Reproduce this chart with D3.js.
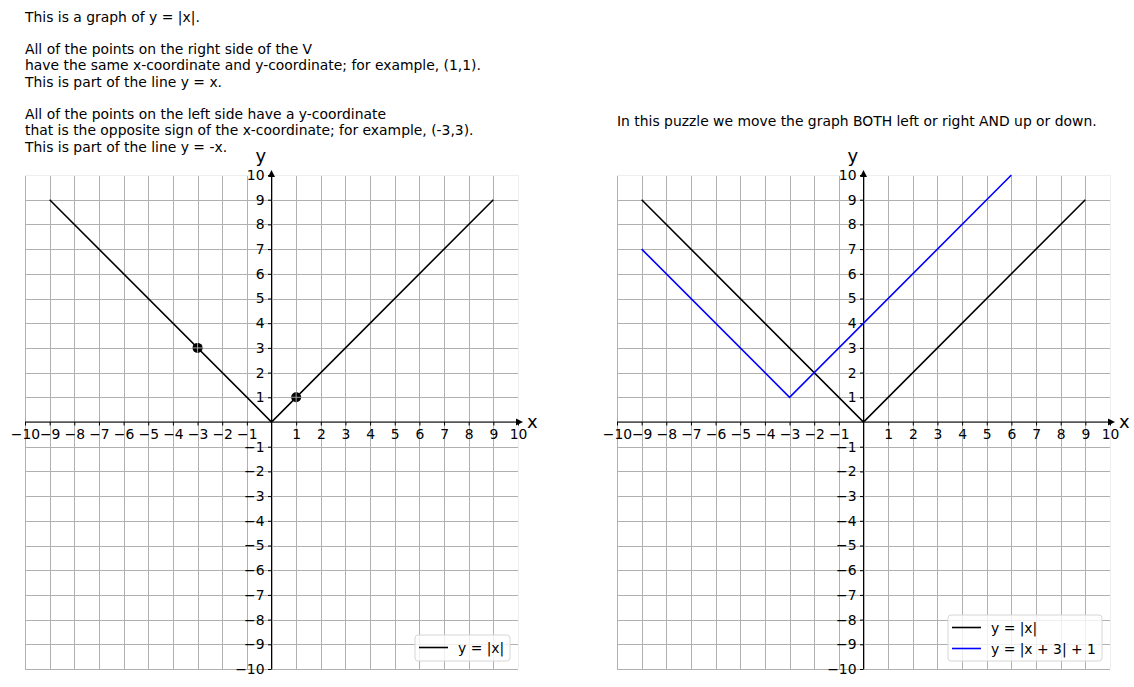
<!DOCTYPE html>
<html><head><meta charset="utf-8">
<script src="https://cdn.jsdelivr.net/npm/d3@7"></script>
<style>body{margin:0;background:#fff}text{font-family:"DejaVu Sans",sans-serif}</style>
</head><body><svg id="c" width="1134" height="687"></svg>
<script>
const ticks = d3.range(-10, 11);
const absX = [-9, 0, 9];
const absY = [9, 0, 9];
const shiftX = [-9, -3, 6];
const shiftY = [7, 1, 10];
const pointsX = [-3, 1];
const pointsY = [3, 1];
const leftText = ["This is a graph of y = |x|.", "", "All of the points on the right side of the V",
  "have the same x-coordinate and y-coordinate; for example, (1,1).", "This is part of the line y = x.", "",
  "All of the points on the left side have a y-coordinate",
  "that is the opposite sign of the x-coordinate; for example, (-3,3).", "This is part of the line y = -x."];
const rightText = ["In this puzzle we move the graph BOTH left or right AND up or down."];

const FS = "13.9px";
const svg = d3.select("#c");
svg.append("rect").attr("width",1134).attr("height",687).attr("fill","#fff");

function panel(x0, x1, series, pts) {
  const x = d3.scaleLinear().domain([-10,10]).range([x0,x1]);
  const y = d3.scaleLinear().domain([-10,10]).range([669,175]);
  const g = svg.append("g");
  // grid
  g.selectAll(".gv").data(ticks).join("line").attr("x1",d=>Math.round(x(d))+0.5).attr("x2",d=>Math.round(x(d))+0.5)
    .attr("y1",y(-10)).attr("y2",y(10)).attr("stroke", d=>d===10?"#eeeeee":"#b0b0b0").attr("stroke-width",1);
  g.selectAll(".gh").data(ticks).join("line").attr("y1",d=>Math.round(y(d))+0.5).attr("y2",d=>Math.round(y(d))+0.5)
    .attr("x1",x(-10)).attr("x2",x(10)).attr("stroke", d=>d===10?"#eeeeee":"#b0b0b0").attr("stroke-width",1);
  // axes
  const tv = ticks.filter(d=>d!==0);
  const fmt = d=>d<0?"\u2212"+(-d):String(d);
  const xa = d3.axisBottom(x).tickValues(tv).tickSize(3.5).tickPadding(3.5).tickFormat(fmt);
  const ya = d3.axisLeft(y).tickValues(tv).tickSize(3.5).tickPadding(3.5).tickFormat(fmt);
  const gx = g.append("g").attr("transform",`translate(0,${y(0)})`).call(xa);
  const gy = g.append("g").attr("transform",`translate(${x(0)},0)`).call(ya);
  [gx,gy].forEach(a=>{
    a.attr("font-size",null).attr("font-family",null);
    a.select(".domain").attr("stroke","#000").attr("stroke-width",1);
    a.selectAll("text").style("font-size",FS).style("font-family","DejaVu Sans").attr("fill","#000");
    a.selectAll(".tick line").attr("stroke","#000");});
  gx.select(".domain").attr("d",`M${x(-10)},0H${x(10)}`);
  gy.select(".domain").attr("d",`M0,${y(-10)}V${y(10)}`);
  // arrows
  g.append("path").attr("d",`M${x(10)+5},${y(0)} L${x(10)-2},${y(0)-3.5} L${x(10)-2},${y(0)+3.5}Z`).attr("fill","#000");
  g.append("path").attr("d",`M${x(0)},${y(10)-5} L${x(0)-3.5},${y(10)+2} L${x(0)+3.5},${y(10)+2}Z`).attr("fill","#000");
  g.append("text").attr("x",x(10)+9).attr("y",y(0)+6).style("font-size","18px").text("x");
  g.append("text").attr("x",x(0)-16).attr("y",y(10)-13).style("font-size","18px").text("y");
  // series
  const line = d3.line().x(d=>x(d[0])).y(d=>y(d[1]));
  series.forEach(s=>{
    g.append("path").attr("d",line(d3.zip(s.xs,s.ys))).attr("fill","none").attr("stroke",s.color).attr("stroke-width",1.6);
  });
  if (pts) {
    pts.xs.forEach((px,i)=>{
      const cx=x(px), cy=y(pts.ys[i]);
      g.append("circle").attr("cx",cx).attr("cy",cy).attr("r",5).attr("fill","#000");
      g.append("line").attr("x1",cx-5).attr("x2",cx+5).attr("y1",cy).attr("y2",cy).attr("stroke","#b0b0b0").attr("stroke-width",0.9);
      g.append("line").attr("y1",cy-5).attr("y2",cy+5).attr("x1",cx).attr("x2",cx).attr("stroke","#b0b0b0").attr("stroke-width",0.9);
    });
  }
  // legend
  const n = series.length;
  const lw = n===1 ? 95 : 154;
  const lh = n===1 ? 26 : 46;
  const lx = x(10)-8-lw, ly = y(-10)-8-lh;
  const lg = g.append("g");
  lg.append("rect").attr("x",lx).attr("y",ly).attr("width",lw).attr("height",lh).attr("rx",3)
    .attr("fill","rgba(255,255,255,0.8)").attr("stroke","#d6d6d6");
  series.forEach((s,i)=>{
    const yy = ly+12.5+i*21;
    lg.append("line").attr("x1",lx+4).attr("x2",lx+33).attr("y1",yy).attr("y2",yy).attr("stroke",s.color).attr("stroke-width",1.6);
    lg.append("text").attr("x",lx+43).attr("y",yy+5).style("font-size",FS).text(s.label);
  });
}

panel(25, 518, [{xs:absX, ys:absY, color:"#000", label:"y = |x|"}], {xs:pointsX, ys:pointsY});
panel(617, 1110, [{xs:absX, ys:absY, color:"#000", label:"y = |x|"},{xs:shiftX, ys:shiftY, color:"#0000ff", label:"y = |x + 3| + 1"}], null);

leftText.forEach((t,i)=>{ svg.append("text").attr("x",25).attr("y",21.5+i*16.25).style("font-size",FS).text(t); });
rightText.forEach((t,i)=>{ svg.append("text").attr("x",617).attr("y",126+i*16.25).style("font-size",FS).text(t); });
</script></body></html>
